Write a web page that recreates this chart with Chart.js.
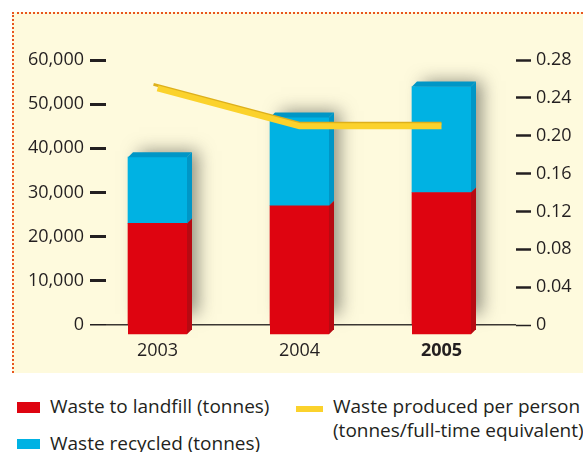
<!DOCTYPE html>
<html>
<head>
<meta charset="utf-8">
<script src="https://cdn.jsdelivr.net/npm/chart.js@4/dist/chart.umd.min.js"></script>
<style>
  html, body { margin:0; padding:0; background:#ffffff; }
  body { width:583px; height:452px; position:relative; overflow:hidden; font-family:"Open Sans", sans-serif; color:#231f20; }
  #panel { position:absolute; left:12px; top:12px; width:571px; height:361px; background:#FEFADD;
           border-top:2px dotted #E8561E; border-left:2px dotted #E8561E; box-sizing:border-box; }
  #wrap { position:absolute; left:0; top:0; width:583px; height:372px; }
  .lg { position:absolute; font-size:19px; line-height:23.5px; white-space:nowrap; color:#231f20; }
  .sw { position:absolute; }
</style>
</head>
<body>
<div id="panel"></div>
<div id="wrap"><canvas id="c" width="583" height="372"></canvas></div>
<div id="legend"></div>
<script>
// ---- data ----
const years = ['2003', '2004', '2005'];
const landfill = [23000, 27000, 30000];
const recycled = [15000, 20000, 24000];
const perPerson = [0.25, 0.21, 0.21];
const leftTicks = [0, 10000, 20000, 30000, 40000, 50000, 60000];
const rightTicks = [0, 0.04, 0.08, 0.12, 0.16, 0.20, 0.24, 0.28];
const seriesNames = ['Waste to landfill (tonnes)', 'Waste recycled (tonnes)', 'Waste produced per person (tonnes/full-time equivalent)'];

const FONT = '"Open Sans", sans-serif';
const RED = '#DE0410', RED_SIDE = '#B70A12';
const BLUE = '#00B2E3', BLUE_SIDE = '#0096C6';
const YEL = '#FBD22C', YEL_DARK = '#DDB01C';
const TXT = '#231f20';
const D = 5, EXT = 10;

const bar3d = {
  id: 'bar3d',
  beforeDatasetsDraw(chart) {
    const top = chart.getDatasetMeta(1), bot = chart.getDatasetMeta(0);
    const ctx = chart.ctx;
    ctx.save();
    top.data.forEach((el, i) => {
      const p = el.getProps(['x', 'y', 'width'], true);
      const base = bot.data[i].getProps(['base'], true).base + EXT;
      ctx.shadowColor = 'rgba(90,90,80,0.65)';
      ctx.shadowBlur = 16;
      ctx.shadowOffsetX = 8;
      ctx.shadowOffsetY = -6;
      ctx.fillStyle = 'rgba(150,150,140,1)';
      ctx.fillRect(p.x - p.width / 2 + 3, p.y, p.width, base - p.y - 14);
    });
    ctx.restore();
  },
  beforeDatasetDraw(chart, args) {
    if (args.meta.type !== 'line') return;
    const ctx = chart.ctx;
    const pts = args.meta.data.map(e => e.getProps(['x', 'y'], true));
    ctx.save();
    ctx.strokeStyle = YEL_DARK;
    ctx.lineWidth = 3;
    ctx.lineJoin = 'miter';
    ctx.beginPath();
    pts.forEach((p, i) => i ? ctx.lineTo(p.x, p.y - 3) : ctx.moveTo(p.x - 4, p.y - 4));
    ctx.stroke();
    ctx.restore();
  },
  afterDatasetDraw(chart, args) {
    if (args.meta.type !== 'bar') return;
    const ctx = chart.ctx;
    const isBottom = args.index === 0;
    ctx.save();
    args.meta.data.forEach(el => {
      const { x, y, base, width } = el.getProps(['x', 'y', 'base', 'width'], true);
      const l = x - width / 2, r = x + width / 2;
      const b = isBottom ? base + EXT : base;
      if (isBottom) {
        ctx.fillStyle = RED;
        ctx.fillRect(l, base - 0.5, width, EXT + 0.5);
      }
      ctx.fillStyle = isBottom ? RED_SIDE : BLUE_SIDE;
      ctx.beginPath();
      ctx.moveTo(r, y); ctx.lineTo(r + D, y - D); ctx.lineTo(r + D, b - D); ctx.lineTo(r, b);
      ctx.closePath(); ctx.fill();
      if (!isBottom) {
        ctx.fillStyle = BLUE_SIDE;
        ctx.beginPath();
        ctx.moveTo(l, y); ctx.lineTo(l + D, y - D); ctx.lineTo(r + D, y - D); ctx.lineTo(r, y);
        ctx.closePath(); ctx.fill();
      }
    });
    ctx.restore();
  }
};

const chart = new Chart(document.getElementById('c'), {
  type: 'bar',
  data: {
    datasets: [
      { label: seriesNames[0], data: years.map((_, i) => ({ x: i, y: landfill[i] })), backgroundColor: RED, borderWidth: 0, barThickness: 59, order: 1, yAxisID: 'y' },
      { label: seriesNames[1], data: years.map((_, i) => ({ x: i, y: recycled[i] })), backgroundColor: BLUE, borderWidth: 0, barThickness: 59, order: 1, yAxisID: 'y' },
      { type: 'line', label: seriesNames[2], data: years.map((_, i) => ({ x: i, y: perPerson[i] })), borderColor: YEL, borderWidth: 6, pointRadius: 0, tension: 0, borderCapStyle: 'butt', borderJoinStyle: 'miter', order: 0, yAxisID: 'y1', clip: false }
    ]
  },
  options: {
    responsive: false,
    animation: false,
    layout: { padding: { top: 60, left: 0, right: 0, bottom: 0 } },
    plugins: { legend: { display: false }, tooltip: { enabled: false }, title: { display: false } },
    scales: {
      x: {
        type: 'linear', stacked: true, offset: false, min: -0.3627, max: 2.5247,
        grid: { display: false, drawTicks: false },
        border: { display: false },
        afterBuildTicks: s => { s.ticks = years.map((_, i) => ({ value: i })); },
        afterFit: s => { s.height = 47; },
        ticks: {
          autoSkip: false, maxRotation: 0, padding: 15, color: TXT,
          callback: v => years[v] ?? '',
          font: c => ({ family: FONT, size: 18, weight: c.index === 2 ? 'bold' : 'normal' })
        }
      },
      y: {
        stacked: true, position: 'left', min: 0, max: 60000,
        afterBuildTicks: s => { s.ticks = leftTicks.map(v => ({ value: v })); },
        afterFit: s => { s.width = 106; },
        border: { display: false },
        grid: {
          drawOnChartArea: true,
          color: c => c.tick && c.tick.value === 0 ? '#3b3733' : 'rgba(0,0,0,0)',
          lineWidth: c => c.tick && c.tick.value === 0 ? 1.5 : 1,
          tickLength: 16, tickColor: TXT,
          tickWidth: c => c.tick && c.tick.value === 0 ? 1.5 : 3
        },
        ticks: { padding: 6, color: TXT, font: { family: FONT, size: 18 }, callback: v => v.toLocaleString('en-US') }
      },
      y1: {
        position: 'right', min: 0, max: 0.28,
        afterBuildTicks: s => { s.ticks = rightTicks.map(v => ({ value: v })); },
        afterFit: s => { s.width = 67; },
        border: { display: false },
        grid: { drawOnChartArea: false, tickLength: 15, tickColor: TXT, tickWidth: c => c.tick && c.tick.value === 0 ? 1.5 : 2.5 },
        ticks: { padding: 5, color: TXT, font: { family: FONT, size: 18 }, callback: v => v === 0 ? '0' : v.toFixed(2) }
      }
    }
  },
  plugins: [bar3d]
});

// ---- HTML legend built from the datasets ----
const lg = document.getElementById('legend');
const items = [
  { ds: 0, sw: { left: 17, top: 402, width: 23, height: 11 }, txt: { left: 50, top: 395 } },
  { ds: 1, sw: { left: 17, top: 439, width: 23, height: 10 }, txt: { left: 50, top: 432 } },
  { ds: 2, sw: { left: 296, top: 406, width: 27, height: 6 }, txt: { left: 333, top: 395 } }
];
items.forEach(it => {
  const ds = chart.data.datasets[it.ds];
  const sw = document.createElement('div');
  sw.className = 'sw';
  Object.assign(sw.style, { left: it.sw.left + 'px', top: it.sw.top + 'px', width: it.sw.width + 'px', height: it.sw.height + 'px',
    background: ds.type === 'line' ? ds.borderColor : ds.backgroundColor });
  lg.appendChild(sw);
  const t = document.createElement('div');
  t.className = 'lg';
  Object.assign(t.style, { left: it.txt.left + 'px', top: it.txt.top + 'px' });
  if (it.ds === 2) {
    t.innerHTML = 'Waste produced per person<br>(tonnes/full-time equivalent)';
  } else {
    t.textContent = ds.label;
  }
  lg.appendChild(t);
});
</script>
</body>
</html>
